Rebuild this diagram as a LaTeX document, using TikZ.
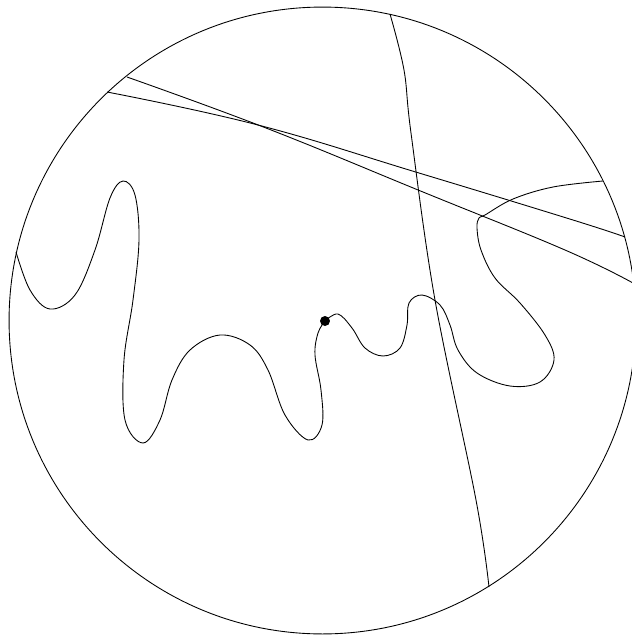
\documentclass[tikz,border=0pt]{standalone}
\usepackage{tikz}

\tikzset{
    curve/.style={line width=0.5pt, black},
    walk/.style={curve, smooth, tension=0.6}
}

\begin{document}
\begin{tikzpicture}[x=0.02cm, y=-0.02cm]

    % Frame
    \useasboundingbox (0, 0) rectangle (632, 637);

    % Disc boundary
    \draw[curve] (322.5, 320.5) circle[radius=6.27cm];

    % Geodesics
    \draw[curve] plot[smooth, tension=0.6] coordinates {(390, 14) (404, 70) (411, 133) (435, 300) (476, 500) (489, 587)};
    \draw[curve] plot[smooth, tension=0.7] coordinates {(127, 77) (266, 128) (423, 192) (565, 250) (633, 283)};
    \draw[curve] plot[smooth, tension=0.7] coordinates {(107, 92) (258, 125) (419, 173) (573, 220) (625, 237)};

    % Random path
    \draw[curve] plot[walk] coordinates {(16, 252) (30, 290) (50, 309) (75, 295) (95, 250) (110, 198) (123, 181) (135, 195) (139, 240) (133, 300) (124, 360) (125, 420) (143, 443) (160, 420) (172, 380) (190, 350) (220, 335) (250, 345) (268, 370) (285, 415) (308, 440) (322, 425) (321, 390) (315, 355) (318, 333) (325, 321)};
    \draw[curve] plot[walk] coordinates {(325, 321) (338, 314) (352, 328) (365, 348) (383, 356) (400, 348) (407, 325) (409, 303) (422, 295) (440, 305) (450, 325) (458, 350) (477, 373) (510, 386) (540, 382) (554, 360) (545, 335) (520, 303) (495, 278) (481, 250) (477, 228) (479, 218) (485, 215) (513, 199) (553, 187) (603, 181)};

    % Start point
    \coordinate (start) at (325, 321);
    \fill (start) circle[radius=0.1cm];

\end{tikzpicture}
\end{document}
